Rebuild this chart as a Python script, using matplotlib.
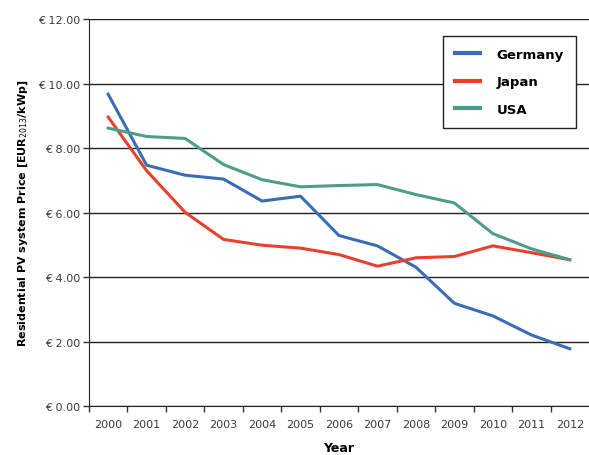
#! /usr/bin/env python3

import numpy as np
import matplotlib
matplotlib.use('Agg')
import matplotlib.pyplot as plt
from matplotlib.ticker import FixedLocator

years = ['2000', '2001', '2002', '2003', '2004', '2005', '2006',
         '2007', '2008', '2009', '2010', '2011', '2012']
germany = [9.67, 7.47, 7.16, 7.04, 6.36, 6.51, 5.29, 4.97, 4.31, 3.19, 2.80, 2.21, 1.78]
japan = [8.96, 7.30, 6.01, 5.17, 4.99, 4.90, 4.70, 4.34, 4.60, 4.64, 4.97, 4.76, 4.54]
usa = [8.62, 8.36, 8.30, 7.49, 7.02, 6.80, 6.84, 6.87, 6.56, 6.30, 5.35, 4.88, 4.54]
y_ticks = [0, 2, 4, 6, 8, 10, 12]


def main():
    fig = plt.figure(figsize=(5.89, 4.56), dpi=100)
    ax = fig.add_axes([0.151, 0.107, 0.849, 0.849])

    x = np.arange(len(years))
    ax.plot(x, germany, color='#3a6db3', lw=2.2, label='Germany')
    ax.plot(x, japan, color='#e8402e', lw=2.2, label='Japan')
    ax.plot(x, usa, color='#4d9c8c', lw=2.2, label='USA')

    ax.set_xlim(-0.5, len(years) - 0.5)
    ax.set_ylim(0, 12)
    ax.set_yticks(y_ticks)
    ax.set_yticklabels(['€ %.2f' % v for v in y_ticks], fontsize=8, color='#3a3a3a')
    ax.set_xticks(x)
    ax.set_xticklabels(years, fontsize=8, color='#3a3a3a')
    ax.xaxis.set_minor_locator(FixedLocator(np.arange(-0.5, len(years) - 1, 1.0)))
    ax.tick_params(axis='x', which='major', length=0, pad=9)
    ax.tick_params(axis='x', which='minor', length=4, width=1, color='#333333')
    ax.tick_params(axis='y', length=4, width=1, color='#333333', pad=2)

    ax.grid(axis='y', color='#222222', lw=1)
    ax.set_axisbelow(True)
    for side in ['top', 'right']:
        ax.spines[side].set_visible(False)
    ax.spines['left'].set_color('#222222')
    ax.spines['bottom'].set_color('#222222')

    ax.set_ylabel('Residential PV system Price [EUR$_{2013}$/kWp]',
                  fontsize=8, fontweight='bold', labelpad=6)
    ax.set_xlabel('Year', fontsize=9, fontweight='bold', labelpad=9)

    leg = ax.legend(loc='upper right', bbox_to_anchor=(0.974, 0.956),
                    prop={'weight': 'bold', 'size': 9.5}, fancybox=False,
                    edgecolor='#222222', framealpha=1, borderpad=0.9,
                    borderaxespad=0, labelspacing=1.1, handlelength=1.9,
                    handletextpad=1.3)
    leg.get_frame().set_linewidth(1)
    for line in leg.get_lines():
        line.set_linewidth(3)

    fig.savefig('out.png', dpi=100)


if __name__ == "__main__":
    main()
